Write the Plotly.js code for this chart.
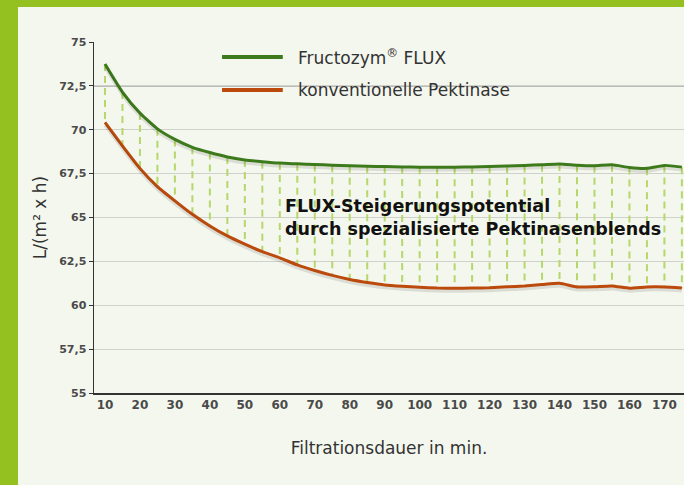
<!DOCTYPE html>
<html>
<head>
<meta charset="utf-8">
<script src="https://cdn.plot.ly/plotly-3.0.1.min.js"></script>
<style>
  html, body { margin: 0; padding: 0; width: 684px; height: 485px; overflow: hidden; background: #f4f7ee; }
  #bgLeft { position: absolute; left: 0; top: 0; width: 18px; height: 485px; background: #94c11f; }
  #bgTop { position: absolute; left: 0; top: 0; width: 684px; height: 7px; background: #94c11f; }
  #chart { position: absolute; left: 0; top: 0; width: 684px; height: 485px; }
</style>
</head>
<body>
<div id="bgLeft"></div>
<div id="bgTop"></div>
<div id="chart"></div>
<script>
const minutes = [10,15,20,25,30,35,40,45,50,55,60,65,70,75,80,85,90,95,100,105,110,115,120,125,130,135,140,145,150,155,160,165,170,175];
const fluxValues = [73.75,72.15,70.95,70.05,69.45,69.0,68.7,68.45,68.28,68.18,68.1,68.06,68.02,67.98,67.95,67.92,67.9,67.88,67.87,67.87,67.87,67.88,67.9,67.93,67.97,68.0,68.05,67.98,67.95,68.0,67.85,67.8,67.97,67.87];
const convValues = [70.42,69.08,67.8,66.76,65.95,65.18,64.52,63.95,63.48,63.05,62.7,62.3,61.98,61.7,61.47,61.3,61.16,61.08,61.02,60.98,60.97,60.98,61.0,61.05,61.1,61.18,61.25,61.04,61.05,61.1,60.97,61.04,61.04,60.98];
const seriesNames = ['Fructozym<sup>®</sup> FLUX', 'konventionelle Pektinase'];
const xTickVals = [10,20,30,40,50,60,70,80,90,100,110,120,130,140,150,160,170];
const yTickVals = [55,57.5,60,62.5,65,67.5,70,72.5,75];
const yTickText = ['55','57,5','60','62,5','65','67,5','70','72,5','75'];
const xTitle = 'Filtrationsdauer in min.';
const yTitle = 'L/(m² x h)';
const noteText = 'FLUX-Steigerungspotential<br>durch spezialisierte Pektinasenblends';

const FONT = 'DejaVu Sans, sans-serif';
const GREEN = '#3c7a1c';
const RED = '#bb4a0c';

// connectors
const cx = [], cy = [];
minutes.forEach((m, i) => { cx.push(m, m, null); cy.push(fluxValues[i], convValues[i], null); });

const shadowLine = { color: 'rgba(0,0,0,0.10)', width: 3, shape: 'spline', smoothing: 0.5 };
const traces = [
  { x: cx, y: cy, mode: 'lines', line: { color: '#b6d76c', width: 2, dash: '7px,5px' }, hoverinfo: 'skip', showlegend: false },
  { x: minutes, y: convValues, yaxis: 'y2', mode: 'lines', line: shadowLine, hoverinfo: 'skip', showlegend: false },
  { x: minutes, y: fluxValues, yaxis: 'y2', mode: 'lines', line: shadowLine, hoverinfo: 'skip', showlegend: false },
  { x: minutes, y: convValues, name: 'konventionelle Pektinase', mode: 'lines', line: { color: RED, width: 3, shape: 'spline', smoothing: 0.5 }, showlegend: false },
  { x: minutes, y: fluxValues, name: 'Fructozym® FLUX', mode: 'lines', line: { color: GREEN, width: 3, shape: 'spline', smoothing: 0.5 }, showlegend: false }
];

const layout = {
  width: 684, height: 485,
  margin: { l: 94, r: 0, t: 42, b: 92 },
  paper_bgcolor: 'rgba(0,0,0,0)',
  plot_bgcolor: 'rgba(0,0,0,0)',
  font: { family: FONT, color: '#333' },
  showlegend: false,
  xaxis: {
    range: [6.86, 175.6],
    tickvals: xTickVals,
    showgrid: false, zeroline: false,
    showline: true, linecolor: '#333', linewidth: 1.5,
    ticks: '',
    tickfont: { family: FONT, size: 12, color: '#4a4a4a', weight: 'bold' },
    title: { text: xTitle, font: { family: FONT, size: 17, color: '#333' }, standoff: 31 },
    automargin: false
  },
  yaxis: {
    range: [55, 75],
    tickvals: yTickVals, ticktext: yTickText,
    showgrid: true, gridcolor: '#d0d0cc', gridwidth: 1,
    zeroline: false,
    showline: true, linecolor: '#333', linewidth: 1.5,
    ticks: 'outside', ticklen: 4, tickcolor: '#333', tickwidth: 1,
    tickfont: { family: FONT, size: 11, color: '#4a4a4a', weight: 'bold' },
    title: { text: yTitle, font: { family: FONT, size: 17, color: '#333' }, standoff: 8 },
    automargin: false
  },
  yaxis2: { overlaying: 'y', range: [55.17, 75.17], visible: false },
  shapes: [
    { type: 'line', xref: 'paper', yref: 'y', x0: 0, x1: 1, y0: 72.5, y1: 72.5, line: { color: '#a9a9a6', width: 1.5 }, layer: 'below' },
    { type: 'line', xref: 'paper', yref: 'paper', x0: 0.217, x1: 0.320, y0: 0.957, y1: 0.957, line: { color: GREEN, width: 4 } },
    { type: 'line', xref: 'paper', yref: 'paper', x0: 0.217, x1: 0.320, y0: 0.863, y1: 0.863, line: { color: RED, width: 4 } }
  ],
  annotations: [
    { xref: 'paper', yref: 'paper', x: 0.342, y: 0.957, xanchor: 'left', yanchor: 'middle', showarrow: false, text: seriesNames[0], font: { family: FONT, size: 17, color: '#333' } },
    { xref: 'paper', yref: 'paper', x: 0.342, y: 0.863, xanchor: 'left', yanchor: 'middle', showarrow: false, text: seriesNames[1], font: { family: FONT, size: 17, color: '#333' } },
    { xref: 'paper', yref: 'paper', x: 0.320, y: 0.5, xanchor: 'left', yanchor: 'middle', align: 'left', showarrow: false, text: noteText, font: { family: FONT, size: 17.5, color: '#111', weight: 'bold' } }
  ]
};

Plotly.newPlot('chart', traces, layout, { displayModeBar: false, staticPlot: true });
</script>
</body>
</html>
